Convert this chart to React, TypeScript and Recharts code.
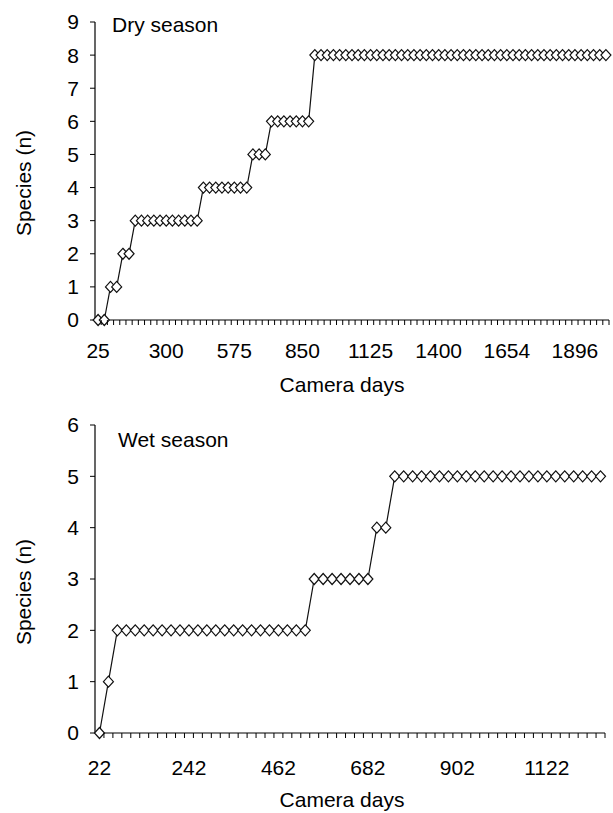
import React from 'react';
import { LineChart, Line, XAxis, YAxis, Label } from 'recharts';

const FONT = '"Liberation Sans", Arial, Helvetica, sans-serif';
const PAGE_W = 613;
const AXIS_X = 95;

// Dry season: cumulative species per camera-day category
const drySpecies = [
  0, 0, 1, 1, 2, 2,
  3, 3, 3, 3, 3, 3, 3, 3, 3, 3, 3,
  4, 4, 4, 4, 4, 4, 4, 4,
  5, 5, 5,
  6, 6, 6, 6, 6, 6, 6,
  8, 8, 8, 8, 8, 8, 8, 8,
  8, 8, 8, 8, 8, 8, 8, 8,
  8, 8, 8, 8, 8, 8, 8, 8,
  8, 8, 8, 8, 8, 8, 8, 8,
  8, 8, 8, 8, 8, 8, 8, 8,
  8, 8, 8, 8, 8, 8, 8, 8,
];
const dryDayLabels = ['25', '300', '575', '850', '1125', '1400', '1654', '1896'];
const dryLabelEvery = 11;
const dryYTicks = [0, 1, 2, 3, 4, 5, 6, 7, 8, 9];

// Wet season
const wetSpecies = [
  0, 1,
  2, 2, 2, 2, 2, 2, 2, 2, 2, 2, 2,
  2, 2, 2, 2, 2, 2, 2, 2, 2, 2, 2,
  3, 3, 3, 3, 3, 3, 3,
  4, 4,
  5, 5, 5, 5, 5, 5, 5, 5, 5, 5, 5, 5,
  5, 5, 5, 5, 5, 5, 5, 5, 5, 5, 5, 5,
];
const wetDayLabels = ['22', '242', '462', '682', '902', '1122'];
const wetLabelEvery = 10;
const wetYTicks = [0, 1, 2, 3, 4, 5, 6];

interface Box {
  height: number;
  top: number;
  right: number;
  axisH: number;
  labelDy: number;
  titleX: number;
  titleY: number;
  yTitleY: number;
  xTitleY: number;
}

interface SeasonChartProps {
  values: number[];
  dayLabels: string[];
  labelEvery: number;
  yTicks: number[];
  title: string;
  box: Box;
}

function Diamond(props: any) {
  const { cx, cy, index } = props;
  if (cx == null || cy == null) return <g key={`e-${index}`} />;
  const d = `M${cx},${cy - 5.5} L${cx + 5},${cy} L${cx},${cy + 5.5} L${cx - 5},${cy} Z`;
  return <path key={`d-${index}`} d={d} fill="#fff" stroke="#111" strokeWidth={1.2} />;
}

function SeasonChart({ values, dayLabels, labelEvery, yTicks, title, box }: SeasonChartProps) {
  const data = values.map((v, i) => ({ idx: i, species: v }));
  const plotW = PAGE_W - AXIS_X - box.right;
  const band = plotW / values.length;
  const yMax = yTicks[yTicks.length - 1];

  const renderTick = (props: any) => {
    const { x, y, payload } = props;
    const i = Number(payload.value);
    const label = i % labelEvery === 0 ? dayLabels[i / labelEvery] : null;
    return (
      <g>
        <line x1={x + band / 2} x2={x + band / 2} y1={y} y2={y + 5} stroke="#000" strokeWidth={1} />
        {label && (
          <text x={x} y={y + box.labelDy} textAnchor="middle" fontSize={21} fill="#000" fontFamily={FONT}>
            {label}
          </text>
        )}
      </g>
    );
  };

  return (
    <LineChart
      width={PAGE_W}
      height={box.height}
      data={data}
      margin={{ top: box.top, right: box.right, bottom: 0, left: 0 }}
    >
      <XAxis
        dataKey="idx"
        type="category"
        interval={0}
        height={box.axisH}
        padding={{ left: band / 2, right: band / 2 }}
        tickSize={0}
        tickMargin={0}
        tickLine={false}
        axisLine={{ stroke: '#000', strokeWidth: 1.2 }}
        tick={renderTick}
      >
        <Label
          content={() => (
            <text x={342} y={box.xTitleY} textAnchor="middle" fontSize={21} fill="#000" fontFamily={FONT}>
              Camera days
            </text>
          )}
        />
      </XAxis>
      <YAxis
        type="number"
        width={AXIS_X}
        domain={[0, yMax]}
        ticks={yTicks}
        interval={0}
        tickSize={5}
        tickMargin={11}
        axisLine={{ stroke: '#000', strokeWidth: 1.2 }}
        tickLine={{ stroke: '#000' }}
        tick={{ fill: '#000', fontSize: 21, fontFamily: FONT }}
      >
        <Label
          content={() => (
            <g>
              <text
                x={31}
                y={box.yTitleY}
                transform={`rotate(-90, 31, ${box.yTitleY})`}
                textAnchor="middle"
                fontSize={21}
                fill="#000"
                fontFamily={FONT}
              >
                Species (n)
              </text>
              <text x={box.titleX} y={box.titleY} fontSize={21} fill="#000" fontFamily={FONT}>
                {title}
              </text>
            </g>
          )}
        />
      </YAxis>
      <Line
        type="linear"
        dataKey="species"
        stroke="#111"
        strokeWidth={1.2}
        dot={Diamond}
        activeDot={false}
        isAnimationActive={false}
      />
    </LineChart>
  );
}

export default function App() {
  return (
    <div style={{ position: 'absolute', left: 0, top: 0, width: PAGE_W, height: 813, background: '#fff' }}>
      <div style={{ position: 'absolute', left: 0, top: 0 }}>
        <SeasonChart
          values={drySpecies}
          dayLabels={dryDayLabels}
          labelEvery={dryLabelEvery}
          yTicks={dryYTicks}
          title="Dry season"
          box={{ height: 410, top: 22, right: 4, axisH: 90, labelDy: 38, titleX: 112, titleY: 32, yTitleY: 183, xTitleY: 392 }}
        />
      </div>
      <div style={{ position: 'absolute', left: 0, top: 410 }}>
        <SeasonChart
          values={wetSpecies}
          dayLabels={wetDayLabels}
          labelEvery={wetLabelEvery}
          yTicks={wetYTicks}
          title="Wet season"
          box={{ height: 403, top: 15, right: 8, axisH: 80, labelDy: 42, titleX: 118, titleY: 37, yTitleY: 182, xTitleY: 397 }}
        />
      </div>
    </div>
  );
}
